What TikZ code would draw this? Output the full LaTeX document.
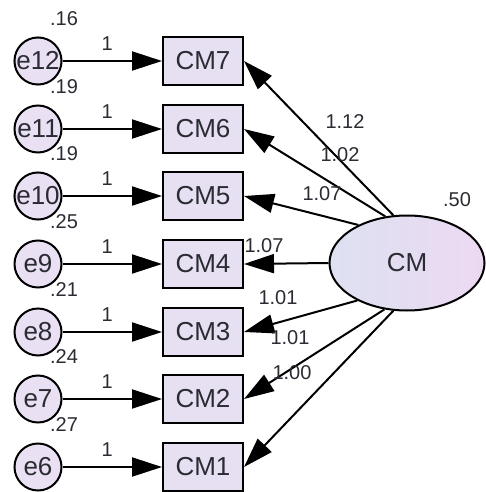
\documentclass[tikz,border=0pt]{standalone}
\usepackage{fontspec}
\setmainfont{Liberation Sans}
\usepackage{tikz}
\usetikzlibrary{arrows.meta,shapes.geometric}

\definecolor{inktext}{HTML}{2B2B33}
\definecolor{boxfill}{HTML}{E6E0F2}
\definecolor{errfill}{HTML}{E9E0F3}
\definecolor{latleft}{HTML}{DDE1F1}
\definecolor{latright}{HTML}{ECD9F2}

\tikzset{
  errvar/.style={circle, draw, line width=2pt, fill=errfill, minimum size=47pt, inner sep=0pt, font=\fontsize{26}{26}\selectfont},
  obsvar/.style={rectangle, draw, line width=2pt, fill=boxfill, minimum width=80pt, minimum height=48pt, inner sep=0pt, font=\fontsize{26}{26}\selectfont},
  latvar/.style={ellipse, draw, line width=2pt, left color=latleft, right color=latright, minimum width=155pt, minimum height=95pt, inner sep=0pt, font=\fontsize{26}{26}\selectfont},
  est/.style={font=\fontsize{20}{20}\selectfont, inner sep=0pt},
  path/.style={->, line width=2pt}
}

\begin{document}
\begin{tikzpicture}[x=1pt, y=-1pt, every node/.style={text=inktext}, >={Triangle[length=30pt, width=19pt]}]
	\useasboundingbox (0,0) rectangle (485,492);
	% latent factor
	\node[latvar] (cm) at (407,263) {CM};
	\node[est] (vcm) at (457,200) {.50};
	% indicators
	\node[obsvar] (cm7) at (203,61) {CM7};
	\node[obsvar] (cm6) at (203,129) {CM6};
	\node[obsvar] (cm5) at (203,196) {CM5};
	\node[obsvar] (cm4) at (203,264) {CM4};
	\node[obsvar] (cm3) at (203,332) {CM3};
	\node[obsvar] (cm2) at (203,399) {CM2};
	\node[obsvar] (cm1) at (203,467) {CM1};
	% error terms
	\node[errvar] (e12) at (38,61) {e12};
	\node[errvar] (e11) at (38,129) {e11};
	\node[errvar] (e10) at (38,196) {e10};
	\node[errvar] (e9) at (38,264) {e9};
	\node[errvar] (e8) at (38,332) {e8};
	\node[errvar] (e7) at (38,399) {e7};
	\node[errvar] (e6) at (38,467) {e6};
	% error variances
	\node[est] (v12) at (64,19) {.16};
	\node[est] (v11) at (64,87) {.19};
	\node[est] (v10) at (64,154) {.19};
	\node[est] (v9) at (64,222) {.25};
	\node[est] (v8) at (64,290) {.21};
	\node[est] (v7) at (64,357) {.24};
	\node[est] (v6) at (64,425) {.27};
	% error paths
	\draw[path] (e12) -- (cm7) node[est, pos=0.45, yshift=17pt] (w12) {1};
	\draw[path] (e11) -- (cm6) node[est, pos=0.45, yshift=17pt] (w11) {1};
	\draw[path] (e10) -- (cm5) node[est, pos=0.45, yshift=17pt] (w10) {1};
	\draw[path] (e9) -- (cm4) node[est, pos=0.45, yshift=17pt] (w9) {1};
	\draw[path] (e8) -- (cm3) node[est, pos=0.45, yshift=17pt] (w8) {1};
	\draw[path] (e7) -- (cm2) node[est, pos=0.45, yshift=17pt] (w7) {1};
	\draw[path] (e6) -- (cm1) node[est, pos=0.45, yshift=17pt] (w6) {1};
	% loadings
	\draw[path] (cm.106) -- (cm7.east);
	\draw[path] (cm.115) -- (cm6.east);
	\draw[path] (cm.142) -- (cm5.east);
	\draw[path] (cm.west) -- (cm4.east);
	\draw[path] (cm.217) -- (cm3.east);
	\draw[path] (cm.244) -- (cm2.east);
	\draw[path] (cm.254) -- (cm1.east);
	\node[est] (l7) at (345,122) {1.12};
	\node[est] (l6) at (340,155) {1.02};
	\node[est] (l5) at (322,194) {1.07};
	\node[est] (l4) at (264,246) {1.07};
	\node[est] (l3) at (278,298) {1.01};
	\node[est] (l2) at (290,338) {1.01};
	\node[est] (l1) at (292,373) {1.00};
\end{tikzpicture}
\end{document}
